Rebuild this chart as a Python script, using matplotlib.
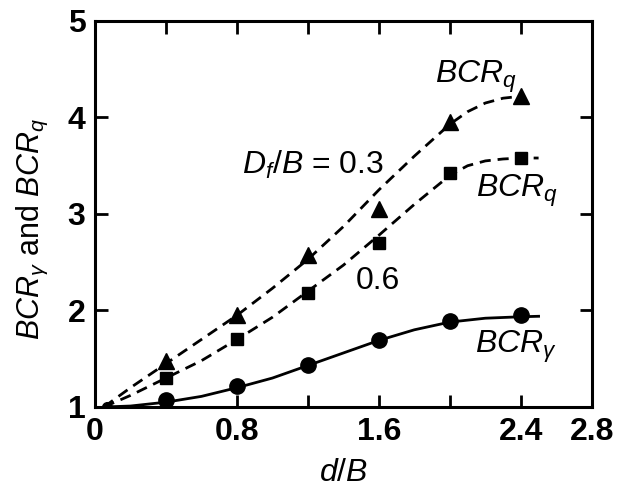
import numpy as np
import matplotlib
matplotlib.use('Agg')
import matplotlib.pyplot as plt

plt.rcParams['font.family'] = 'Liberation Sans'
plt.rcParams['mathtext.fontset'] = 'custom'
plt.rcParams['mathtext.rm'] = 'Liberation Sans'
plt.rcParams['mathtext.it'] = 'Liberation Sans:italic'
plt.rcParams['mathtext.bf'] = 'Liberation Sans:bold'

# measured points
x_pts = [0.4, 0.8, 1.2, 1.6, 2.0, 2.4]
tri_pts = [1.48, 1.95, 2.58, 3.05, 3.95, 4.22]
sq_pts = [1.30, 1.70, 2.18, 2.70, 3.42, 3.58]
circ_pts = [1.07, 1.22, 1.43, 1.69, 1.89, 1.95]

# fitted curves
tri_cx = [0.05, 0.2, 0.4, 0.6, 0.8, 1.0, 1.2, 1.4, 1.6, 1.8, 2.0, 2.1, 2.2, 2.3, 2.4]
tri_cy = [1.0, 1.2, 1.45, 1.7, 1.95, 2.23, 2.53, 2.87, 3.25, 3.6, 3.93, 4.06, 4.15, 4.2, 4.22]
sq_cx = [0.05, 0.2, 0.4, 0.6, 0.8, 1.0, 1.2, 1.4, 1.6, 1.8, 2.0, 2.1, 2.2, 2.3, 2.4, 2.5]
sq_cy = [1.0, 1.12, 1.3, 1.48, 1.7, 1.93, 2.2, 2.47, 2.78, 3.1, 3.4, 3.5, 3.55, 3.57, 3.58, 3.58]
circ_cx = [0.05, 0.2, 0.4, 0.6, 0.8, 1.0, 1.2, 1.4, 1.6, 1.8, 2.0, 2.2, 2.4, 2.5]
circ_cy = [1.0, 1.01, 1.05, 1.11, 1.2, 1.3, 1.43, 1.56, 1.69, 1.8, 1.88, 1.92, 1.935, 1.94]

fig = plt.figure(figsize=(6.21, 4.88), dpi=100)
ax = fig.add_axes([0.153, 0.166, 0.800, 0.791])

ax.plot(tri_cx, tri_cy, color='black', lw=2, ls=(0, (4, 2.5)))
ax.plot(sq_cx, sq_cy, color='black', lw=2, ls=(0, (4, 2.5)))
ax.plot(circ_cx, circ_cy, color='black', lw=2, ls='-')

ax.plot(x_pts, tri_pts, '^', color='black', ms=11, ls='none')
ax.plot(x_pts, sq_pts, 's', color='black', ms=9, ls='none')
ax.plot(x_pts, circ_pts, 'o', color='black', ms=11, ls='none')
ax.plot([0.07], [1.0], 'o', color='black', ms=7)

ax.set_xlim(0, 2.8)
ax.set_ylim(1, 5)
ax.set_xticks([0, 0.4, 0.8, 1.2, 1.6, 2.0, 2.4, 2.8])
ax.set_xticklabels(['0', '', '0.8', '', '1.6', '', '2.4', '2.8'])
ax.set_yticks([1, 2, 3, 4, 5])
ax.set_yticklabels(['1', '2', '3', '4', '5'])
ax.tick_params(direction='in', length=9, width=2, top=True, right=True,
               labelsize=23, pad=7)
for lab in ax.get_xticklabels() + ax.get_yticklabels():
    lab.set_fontweight('bold')
for s in ax.spines.values():
    s.set_linewidth(2.2)

ax.set_xlabel(r'$d/B$', fontsize=23, labelpad=8)
ax.set_ylabel(r'$BCR_\gamma$ and $BCR_q$', fontsize=22)
ax.yaxis.set_label_coords(-0.09, 0.46)

ax.text(1.915, 4.42, r'$BCR_q$', fontsize=23, va='center')
ax.text(0.83, 3.51, r'$D_f/B$ = 0.3', fontsize=23, va='center')
ax.text(2.15, 3.24, r'$BCR_q$', fontsize=23, va='center')
ax.text(1.47, 2.31, '0.6', fontsize=23, va='center')
ax.text(2.14, 1.62, r'$BCR_\gamma$', fontsize=23, va='center')

fig.savefig('out.png', dpi=100)
